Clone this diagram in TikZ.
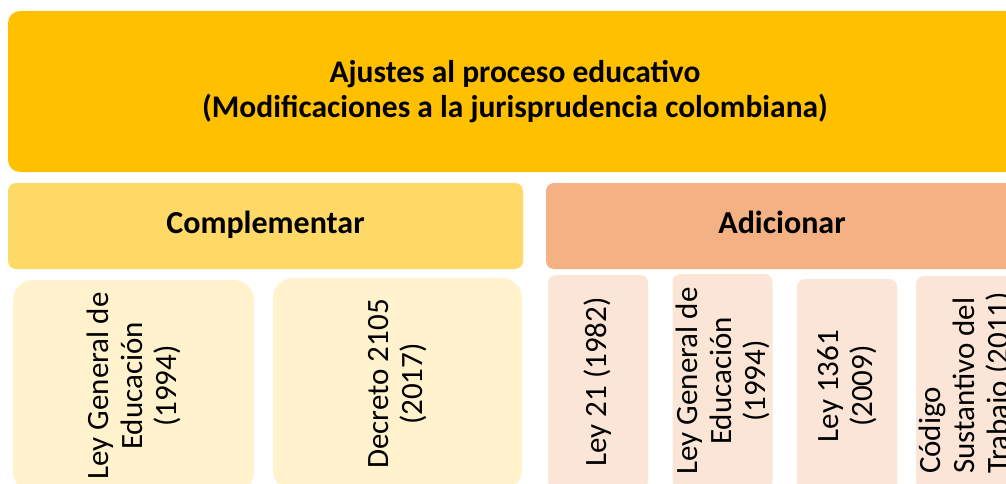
\documentclass[tikz,border=0pt]{standalone}
\usepackage{fontspec}
\setmainfont{Carlito}
\definecolor{topc}{HTML}{FFC000}
\definecolor{compc}{HTML}{FFD966}
\definecolor{adic}{HTML}{F4B183}
\definecolor{lcardc}{HTML}{FFF2CC}
\definecolor{rcardc}{HTML}{FBE5D6}
\begin{document}
\begin{tikzpicture}[x=1pt,y=-1pt,
  base/.style={inner sep=0pt, outer sep=0pt, text=black},
  topbox/.style={base, fill=topc, rounded corners=12pt, anchor=north west,
    minimum width=1014pt, minimum height=161pt, align=center,
    font=\fontsize{31.5}{35}\selectfont\bfseries},
  headbox/.style={base, rounded corners=8pt, anchor=north west,
    minimum height=86pt, text height=21pt, text depth=7pt,
    font=\fontsize{32}{35}\selectfont\bfseries},
  lcard/.style={base, fill=lcardc, rounded corners=20pt, rotate=90,
    minimum width=212pt, align=center, font=\fontsize{31}{34}\selectfont},
  rcard/.style={base, fill=rcardc, rounded corners=8pt, rotate=90,
    minimum width=214pt, minimum height=100pt, align=center,
    font=\fontsize{31}{34}\selectfont}]
\useasboundingbox (0,0) rectangle (1006,484);
\clip (0,0) rectangle (1006,484);
\node[topbox] (top) at (8,11) {Ajustes al proceso educativo\\(Modificaciones a la jurisprudencia colombiana)};
\node[headbox, fill=compc, minimum width=515pt] (comp) at (8,183) {Complementar};
\node[headbox, fill=adic, minimum width=472pt] (adic) at (546,183) {Adicionar};
\node[lcard, minimum height=241pt] (l1) at (133.5,386) {Ley General de\\Educación\\(1994)};
\node[lcard, minimum height=249pt] (l2) at (397.5,384) {Decreto 2105\\(2017)};
\node[rcard] (r1) at (598,382) {Ley 21 (1982)};
\node[rcard] (r2) at (722.5,381) {Ley General de\\Educación\\(1994)};
\node[rcard] (r3) at (847,386) {Ley 1361\\(2009)};
\node[rcard, align=left] (r4) at (966,383) {Código\\Sustantivo del\\Trabajo (2011)};
\end{tikzpicture}
\end{document}
